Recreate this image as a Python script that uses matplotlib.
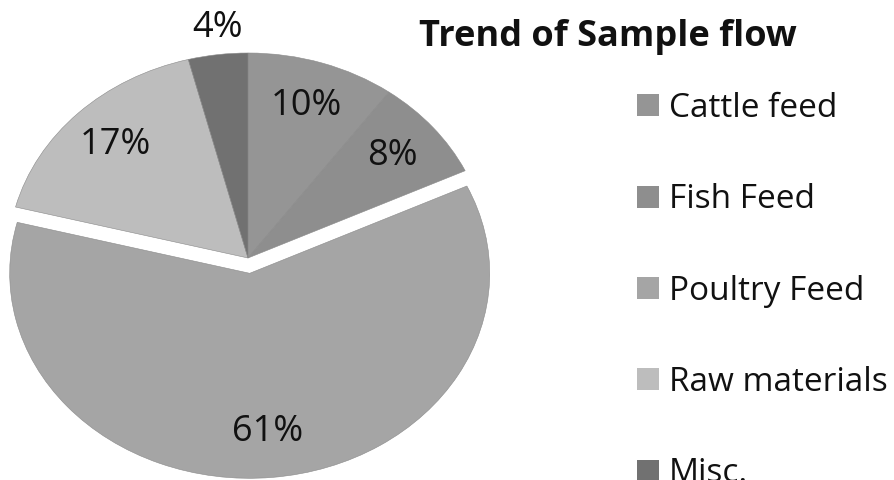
import matplotlib
matplotlib.use("Agg")
import matplotlib.pyplot as plt
import numpy as np

categories = ["Cattle feed", "Fish Feed", "Poultry Feed", "Raw materials", "Misc."]
values = [10, 8, 61, 17, 4]
colors = ["#959595", "#8e8e8e", "#a5a5a5", "#bdbdbd", "#717171"]
explode = [0, 0, 0.075, 0, 0]
title = "Trend of Sample flow"

plt.rcParams['font.family'] = ['Open Sans', 'DejaVu Sans']

W, H = 895, 480
fig = plt.figure(figsize=(W / 100, H / 100), dpi=100)
ax = fig.add_axes([0, 0, 1, 1])

wedges, texts, autotexts = ax.pie(
    values, colors=colors, explode=explode, startangle=90, counterclock=False,
    autopct='%.0f%%', pctdistance=0.78,
    wedgeprops=dict(linewidth=0.4, edgecolor="#8a8a8a"),
    textprops=dict(fontsize=26, color="#111111"))

# Misc label outside
theta = np.deg2rad(96.5)
autotexts[4].set_position((1.13 * np.cos(theta), 1.13 * np.sin(theta)))

# elliptical pie: map pixels
cx, cy, rx, ry = 248, 258, 240, 205
ax.set_aspect('auto')
ax.set_xlim(-cx / rx, (W - cx) / rx)
ax.set_ylim((cy - H) / ry, cy / ry)
ax.axis('off')

fig.text(608 / W, 1 - 37 / H, title, ha='center', va='center',
         fontsize=26, fontweight='bold', color="#111111")

leg = fig.legend(wedges, categories, loc='upper left',
                 bbox_to_anchor=(637 / W, 1 - 92 / H), frameon=False,
                 fontsize=24, handlelength=0.65, handleheight=0.65,
                 handletextpad=0.3, labelspacing=1.75, borderaxespad=0,
                 borderpad=0)
for t in leg.get_texts():
    t.set_color("#111111")
for h in leg.legend_handles:
    h.set_edgecolor('none')

fig.savefig("out.png", dpi=100)
